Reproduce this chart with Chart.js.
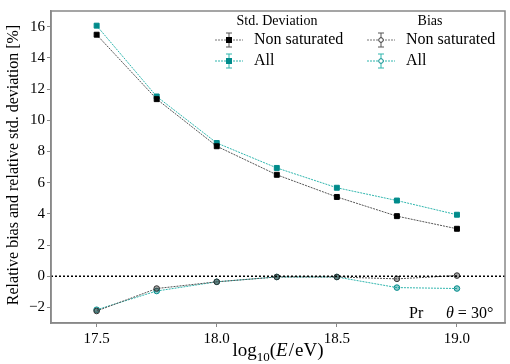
<!DOCTYPE html>
<html lang="en">
<head>
    <meta charset="UTF-8">
    <title>Relative bias and std. deviation</title>
    <script src="https://cdn.jsdelivr.net/npm/chart.js"></script>
    <style>
        body { margin: 0; background: white; }
        #wrap { width: 510px; height: 364px; }
    </style>
</head>
<body>
    <div id="wrap"><canvas id="chart" width="510" height="364"></canvas></div>

    <script>
        // energies, log10(E/eV)
        const energies = [17.5, 17.75, 18.0, 18.25, 18.5, 18.75, 19.0];

        // relative std. deviation [%]
        const stdNonSat = [15.48, 11.35, 8.33, 6.5, 5.08, 3.85, 3.04];
        const stdAll = [16.06, 11.52, 8.54, 6.94, 5.67, 4.85, 3.94];

        // relative bias [%]
        const biasNonSat = [-2.23, -0.79, -0.36, -0.05, -0.05, -0.17, 0.04];
        const biasAll = [-2.15, -0.95, -0.36, -0.05, -0.05, -0.73, -0.79];

        const xTicks = [17.5, 18.0, 18.5, 19.0];
        const yTicks = [-2, 0, 2, 4, 6, 8, 10, 12, 14, 16];

        const TEAL = "#008b8b";
        const TEAL_LINE = "#2fb5ad";
        const FONT = "'Liberation Serif', 'DejaVu Serif', serif";

        function pts(ys) {
            return energies.map((x, i) => ({ x: x, y: ys[i] }));
        }

        function series(label, ys, color, fillColor, lineColor, style) {
            return {
                label: label,
                data: pts(ys),
                borderColor: lineColor,
                borderWidth: 1,
                borderDash: [2, 1],
                pointStyle: style,
                pointRadius: style === "rect" ? 3.5 : 2.8,
                pointBackgroundColor: fillColor,
                pointBorderColor: color,
                pointBorderWidth: 1,
                fill: false,
                tension: 0
            };
        }

        // zero line, frame, legend and text
        const extras = {
            id: "extras",
            afterDraw(chart) {
                const ctx = chart.ctx;
                const a = chart.chartArea;
                const ys = chart.scales.y;
                ctx.save();

                // dotted zero line
                const y0 = ys.getPixelForValue(0);
                ctx.strokeStyle = "#000";
                ctx.lineWidth = 1.5;
                ctx.setLineDash([2, 2]);
                ctx.beginPath();
                ctx.moveTo(a.left, y0);
                ctx.lineTo(a.right, y0);
                ctx.stroke();
                ctx.setLineDash([]);

                // frame
                ctx.strokeStyle = "#888";
                ctx.lineWidth = 1.5;
                ctx.strokeRect(a.left, a.top, a.right - a.left, a.bottom - a.top);

                // legend
                ctx.fillStyle = "#000";
                ctx.textBaseline = "middle";
                ctx.textAlign = "center";
                ctx.font = "14px " + FONT;
                ctx.fillText("Std. Deviation", 277, 21);
                ctx.fillText("Bias", 430, 21);

                const rows = [
                    { x: 215, y: 40, c: "#000", lc: "#777", shape: "rect", label: "Non saturated" },
                    { x: 215, y: 61, c: TEAL, lc: TEAL_LINE, shape: "rect", label: "All" },
                    { x: 367, y: 40, c: "#333", lc: "#777", shape: "circle", label: "Non saturated" },
                    { x: 367, y: 61, c: TEAL, lc: TEAL_LINE, shape: "circle", label: "All" }
                ];
                rows.forEach(r => {
                    const cx = r.x + 14;
                    ctx.strokeStyle = r.lc;
                    ctx.lineWidth = 1;
                    ctx.setLineDash([2, 1]);
                    ctx.beginPath();
                    ctx.moveTo(r.x, r.y);
                    ctx.lineTo(r.x + 28, r.y);
                    ctx.stroke();
                    ctx.setLineDash([]);
                    // error bar
                    ctx.strokeStyle = r.c === TEAL ? TEAL_LINE : "#555";
                    ctx.beginPath();
                    ctx.moveTo(cx, r.y - 7); ctx.lineTo(cx, r.y + 7);
                    ctx.moveTo(cx - 3, r.y - 7); ctx.lineTo(cx + 3, r.y - 7);
                    ctx.moveTo(cx - 3, r.y + 7); ctx.lineTo(cx + 3, r.y + 7);
                    ctx.stroke();
                    ctx.fillStyle = r.c;
                    ctx.strokeStyle = r.c;
                    if (r.shape === "rect") {
                        ctx.fillRect(cx - 3, r.y - 3, 6, 6);
                    } else {
                        ctx.fillStyle = "#fff";
                        ctx.beginPath();
                        ctx.arc(cx, r.y, 2.3, 0, Math.PI * 2);
                        ctx.fill();
                        ctx.stroke();
                    }
                    ctx.fillStyle = "#000";
                    ctx.textAlign = "left";
                    ctx.font = "16px " + FONT;
                    ctx.fillText(r.label, r.x + 39, r.y);
                });

                // annotations
                ctx.textBaseline = "alphabetic";
                ctx.textAlign = "left";
                ctx.font = "16px " + FONT;
                ctx.fillText("Pr", 409, 318);
                ctx.font = "italic 16px " + FONT;
                ctx.fillText("\u03b8", 446, 318);
                let w = ctx.measureText("\u03b8").width;
                ctx.font = "16px " + FONT;
                ctx.fillText(" = 30\u00b0", 446 + w, 318);

                // x axis title: log10(E/eV)
                const parts = [
                    { t: "log", f: "19px " + FONT, dy: 0 },
                    { t: "10", f: "13px " + FONT, dy: 5 },
                    { t: "(", f: "19px " + FONT, dy: 0 },
                    { t: "E", f: "italic 19px " + FONT, dy: 0 },
                    { t: "/", f: "19px " + FONT, dy: 0 },
                    { t: "eV)", f: "19px " + FONT, dy: 0 }
                ];
                let total = 0;
                parts.forEach(p => { ctx.font = p.f; p.w = ctx.measureText(p.t).width + (p.t === "/" ? 2 : 0); total += p.w; });
                let px = (a.left + a.right) / 2 - total / 2;
                parts.forEach(p => {
                    ctx.font = p.f;
                    ctx.fillText(p.t, px + (p.t === "/" ? 1 : 0), 356 + p.dy);
                    px += p.w;
                });

                // y axis title
                ctx.translate(14, (a.top + a.bottom) / 2 - 2);
                ctx.rotate(-Math.PI / 2);
                ctx.textAlign = "center";
                ctx.textBaseline = "middle";
                ctx.font = "16px " + FONT;
                ctx.fillText("Relative bias and relative std. deviation [%]", 0, 0);
                ctx.restore();
            }
        };

        new Chart(document.getElementById("chart"), {
            type: "line",
            data: {
                datasets: [
                    series("Std. Non saturated", stdNonSat, "#000", "#000", "#555", "rect"),
                    series("Std. All", stdAll, TEAL, TEAL, TEAL_LINE, "rect"),
                    series("Bias Non saturated", biasNonSat, "#333", "rgba(60,60,60,0.45)", "#555", "circle"),
                    series("Bias All", biasAll, TEAL, "rgba(0,139,139,0.45)", TEAL_LINE, "circle")
                ]
            },
            options: {
                responsive: false,
                animation: false,
                layout: { padding: { top: 3, right: 5, left: 0, bottom: 0 } },
                plugins: { legend: { display: false }, tooltip: { enabled: false } },
                scales: {
                    x: {
                        type: "linear",
                        min: 17.31,
                        max: 19.2,
                        afterBuildTicks: s => { s.ticks = xTicks.map(v => ({ value: v })); },
                        afterFit: s => { s.height = 41; },
                        ticks: {
                            color: "#000",
                            font: { family: FONT, size: 15 },
                            padding: 3,
                            callback: v => v.toFixed(1)
                        },
                        grid: { drawOnChartArea: false, tickLength: 4, color: "#888" },
                        border: { color: "#888", width: 1.5 }
                    },
                    y: {
                        min: -3,
                        max: 17,
                        afterBuildTicks: s => { s.ticks = yTicks.map(v => ({ value: v })); },
                        afterFit: s => { s.width = 51; },
                        ticks: {
                            color: "#000",
                            font: { family: FONT, size: 15 },
                            padding: 2,
                            callback: v => v < 0 ? "\u2212" + Math.abs(v) : String(v)
                        },
                        grid: { drawOnChartArea: false, tickLength: 4, color: "#888" },
                        border: { color: "#888", width: 1.5 }
                    }
                }
            },
            plugins: [extras]
        });
    </script>
</body>
</html>
